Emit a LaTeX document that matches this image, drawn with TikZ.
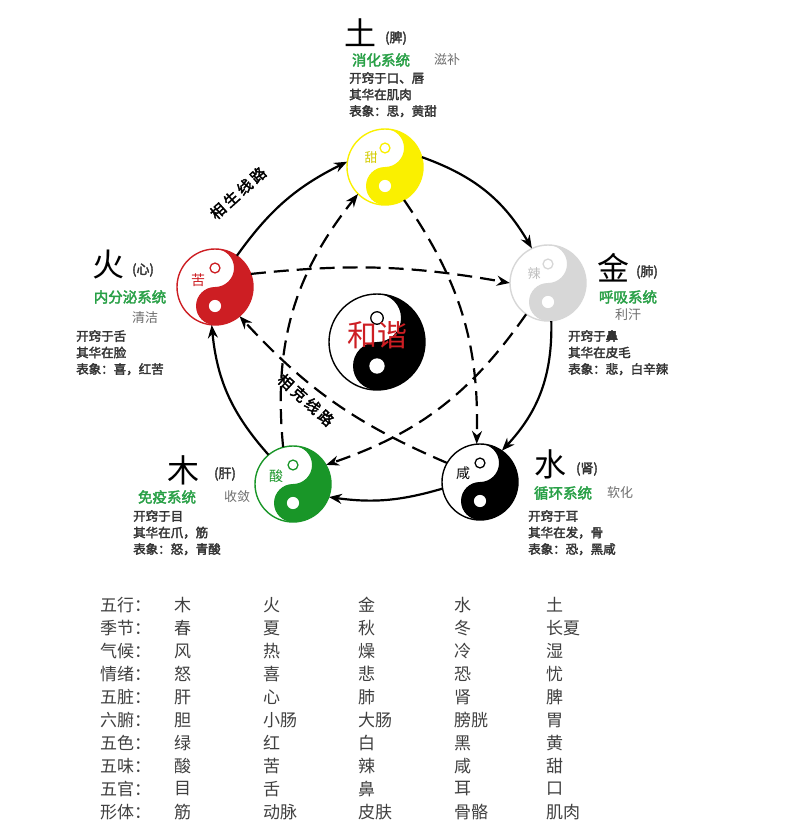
\documentclass[tikz,border=0pt]{standalone}
\usepackage{fontspec}
\setmainfont{Noto Sans CJK SC}[AutoFakeBold=2.5]
\usetikzlibrary{arrows.meta}
\definecolor{tgreen}{RGB}{40,160,70}
\definecolor{tgray}{RGB}{110,110,110}
\definecolor{yyel}{RGB}{250,240,0}
\definecolor{yred}{RGB}{205,30,35}
\definecolor{ygrn}{RGB}{25,150,40}
\definecolor{ylgr}{RGB}{215,215,215}
\definecolor{ylab}{RGB}{190,190,190}
\newcommand{\yinyang}[6]{% name, x, y, r, color, label
  \begin{scope}[shift={(#2,#3)}]
    \fill[white] (0,0) circle[radius=#4];
    \fill[#5] (0,#4) arc[start angle=90,end angle=-90,radius=#4]
      arc[start angle=-90,end angle=-270,radius=#4/2]
      arc[start angle=-90,end angle=90,radius=#4/2] -- cycle;
    \draw[#5,line width=1.4pt] (0,0) circle[radius=#4];
    \draw[#5,fill=white,line width=1.3pt] (0,#4/2) circle[radius=#4*0.13];
    \fill[white] (0,-#4/2) circle[radius=#4*0.16];
  \end{scope}
  \node[circle,minimum size=2*#4,inner sep=0pt] (#1) at (#2,#3) {};
  #6}
\tikzset{
  sheng/.style={-{Stealth[length=13pt,width=10pt]},line width=2.2pt},
  ke/.style={-{Stealth[length=13pt,width=10pt]},line width=2.2pt,dash pattern=on 15pt off 8pt},
  big/.style={font=\fontsize{32}{34}\selectfont,inner sep=0pt},
  par/.style={font=\fontsize{13}{15}\selectfont\bfseries,text=black!80,inner sep=0pt},
  gsys/.style={font=\fontsize{14.5}{16}\selectfont\bfseries,text=tgreen,inner sep=0pt},
  gfx/.style={font=\fontsize{13}{15}\selectfont,text=tgray,inner sep=0pt},
  info/.style={font=\fontsize{12.5}{16.5}\selectfont\bfseries,text=black!80,align=left,anchor=north west,inner sep=0pt},
  tab/.style={font=\fontsize{17}{19}\selectfont,text=black!75,anchor=west,inner sep=0pt},
  route/.style={font=\fontsize{15}{15}\selectfont\bfseries,inner sep=1pt},
}
\begin{document}
\begin{tikzpicture}[x=1pt,y=1pt]
\useasboundingbox (0,0) rectangle (785,-837);
\fill[white] (0,0) rectangle (785,-837);
% circles
\yinyang{tu}{385}{-167}{38}{yyel}{\node[text=yyel!85!black,font=\fontsize{13}{13}\selectfont] at (371,-158) {甜};}
\yinyang{jin}{548}{-283}{38}{ylgr}{\node[text=ylab,font=\fontsize{13}{13}\selectfont] at (534,-274) {辣};}
\yinyang{shui}{480}{-482}{38}{black}{\node[text=black,font=\fontsize{14}{14}\selectfont] at (463,-473) {咸};}
\yinyang{mu}{293}{-484}{38}{ygrn}{\node[text=ygrn,font=\fontsize{14}{14}\selectfont] at (276,-476) {酸};}
\yinyang{huo}{215}{-287}{38}{yred}{\node[text=yred,font=\fontsize{14}{14}\selectfont] at (198,-280) {苦};}
\yinyang{he}{377}{-342}{48}{black}{\node[text=yred,font=\fontsize{30}{30}\selectfont] at (377,-335) {和谐};}
% generating (solid)
\draw[sheng] (huo.55) to[bend left=14] (tu.172);
\draw[sheng] (tu.15) to[bend left=20] (jin.115);
\draw[sheng] (jin.275) to[bend left=22] (shui.55);
\draw[sheng] (shui.190) to[bend left=12] (mu.340);
\draw[sheng] (mu.130) to[bend left=18] (huo.265);
% controlling (dashed)
\draw[ke] (huo.20) to[bend left=8] (jin.180);
\draw[ke] (jin.235) to[bend left=18] (mu.30);
\draw[ke] (mu.105) to[bend left=22] (tu.225);
\draw[ke] (tu.300) to[bend left=18] (shui.95);
\draw[ke] (shui.150) to[bend left=12] (huo.310);
% route labels
\node[route,rotate=42] (sl) at (238,-193) {相\hspace{3pt}生\hspace{3pt}线\hspace{3pt}路};
\node[route,rotate=-42] (kl) at (306,-400) {相\hspace{3pt}克\hspace{3pt}线\hspace{3pt}路};
% Earth
\node[big] (tuT) at (360,-33) {土};
\node[par] at (396,-38) {(脾)};
\node[gsys] at (381,-60) {消化系统};
\node[gfx] at (447,-60) {滋补};
\node[info] at (349,-72) {开窍于口、唇\\其华在肌肉\\表象：思，黄甜};
% Fire
\node[big] (huoT) at (108,-265) {火};
\node[par] at (143,-270) {(心)};
\node[gsys] at (130,-297) {内分泌系统};
\node[gfx] at (145,-318) {清洁};
\node[info] at (76,-330) {开窍于舌\\其华在脸\\表象：喜，红苦};
% Metal
\node[big] (jinT) at (613,-268) {金};
\node[par] at (647,-272) {(肺)};
\node[gsys] at (628,-297) {呼吸系统};
\node[gfx] at (628,-315) {利汗};
\node[info] at (568,-330) {开窍于鼻\\其华在皮毛\\表象：悲，白辛辣};
% Wood
\node[big] (muT) at (183,-470) {木};
\node[par] at (225,-474) {(肝)};
\node[gsys] at (167,-497) {免疫系统};
\node[gfx] at (237,-497) {收敛};
\node[info] at (133,-510) {开窍于目\\其华在爪，筋\\表象：怒，青酸};
% Water
\node[big] (shuiT) at (550,-464) {水};
\node[par] at (587,-469) {(肾)};
\node[gsys] at (563,-493) {循环系统};
\node[gfx] at (620,-493) {软化};
\node[info] at (528,-510) {开窍于耳\\其华在发，骨\\表象：恐，黑咸};
% table
\foreach \y/\a/\b/\c/\d/\e/\f in {
 605/五行：/木/火/金/水/土,
 628/季节：/春/夏/秋/冬/长夏,
 651/气候：/风/热/燥/冷/湿,
 674/情绪：/怒/喜/悲/恐/忧,
 697/五脏：/肝/心/肺/肾/脾,
 720/六腑：/胆/小肠/大肠/膀胱/胃,
 743/五色：/绿/红/白/黑/黄,
 766/五味：/酸/苦/辣/咸/甜,
 789/五官：/目/舌/鼻/耳/口,
 812/形体：/筋/动脉/皮肤/骨骼/肌肉}{
 \node[tab] at (100,-\y) {\a};
 \node[tab] at (174,-\y) {\b};
 \node[tab] at (263,-\y) {\c};
 \node[tab] at (358,-\y) {\d};
 \node[tab] at (454,-\y) {\e};
 \node[tab] at (546,-\y) {\f};
}
\end{tikzpicture}
\end{document}
